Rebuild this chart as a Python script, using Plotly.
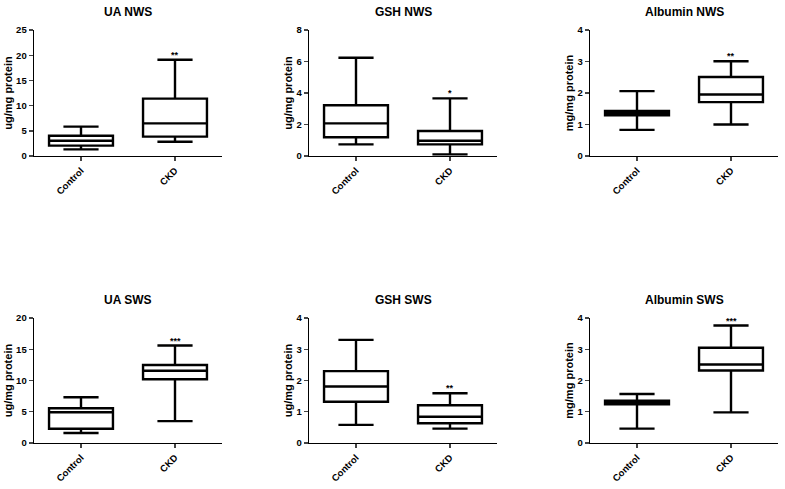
import plotly.graph_objects as go

categories = ["Control", "CKD"]

titles = ["UA NWS", "GSH NWS", "Albumin NWS", "UA SWS", "GSH SWS", "Albumin SWS"]
y_titles = ["ug/mg protein", "ug/mg protein", "mg/mg protein",
            "ug/mg protein", "ug/mg protein", "mg/mg protein"]
y_max = [25, 8, 4, 20, 4, 4]
y_dtick = [5, 2, 1, 5, 1, 1]
stars = ["**", "*", "**", "***", "**", "***"]

# [Control, CKD] per panel
lowerfence = [[1.32, 2.84], [0.74, 0.10], [0.83, 1.00], [1.59, 3.50], [0.58, 0.46], [0.46, 0.98]]
q1 =         [[2.05, 3.84], [1.19, 0.74], [1.29, 1.71], [2.28, 10.19], [1.32, 0.63], [1.24, 2.32]]
median =     [[3.04, 6.48], [2.07, 0.97], [1.36, 1.95], [4.93, 11.56], [1.81, 0.84], [1.29, 2.51]]
q3 =         [[4.03, 11.38], [3.22, 1.59], [1.43, 2.51], [5.57, 12.47], [2.30, 1.21], [1.35, 3.05]]
upperfence = [[5.82, 19.10], [6.24, 3.66], [2.06, 3.01], [7.32, 15.60], [3.30, 1.59], [1.57, 3.76]]

W, H = 785, 489
x_px = [(34, 222), (309, 497), (590, 778)]
y_px = [(30, 156), (318, 443)]

FONT = "Liberation Sans, Arial, sans-serif"

fig = go.Figure()
layout = dict(
    width=W, height=H,
    margin=dict(l=0, r=0, t=0, b=0, autoexpand=False),
    paper_bgcolor="white", plot_bgcolor="white",
    showlegend=False,
    font=dict(family=FONT, color="black"),
)
annotations = []

for i in range(6):
    r, c = divmod(i, 3)
    xa = "x" if i == 0 else f"x{i+1}"
    ya = "y" if i == 0 else f"y{i+1}"
    xkey = "xaxis" if i == 0 else f"xaxis{i+1}"
    ykey = "yaxis" if i == 0 else f"yaxis{i+1}"
    x0, x1 = x_px[c]
    yt, yb = y_px[r]
    layout[xkey] = dict(
        domain=[x0 / W, x1 / W], anchor=ya, range=[-0.5, 1.5],
        tickmode="array", tickvals=[0, 1], ticktext=[f"<b>{t}</b>" for t in categories],
        tickangle=-45, ticks="outside", ticklen=4, tickwidth=1.4,
        showline=True, linecolor="black", linewidth=1.4,
        showgrid=False, zeroline=False, automargin=False,
        tickfont=dict(size=9.5, family=FONT, color="black"),
        fixedrange=True,
    )
    layout[ykey] = dict(
        domain=[1 - yb / H, 1 - yt / H], anchor=xa, range=[0, y_max[i]],
        dtick=y_dtick[i], tick0=0,
        ticks="outside", ticklen=4, tickwidth=1.4,
        showline=True, linecolor="black", linewidth=1.4,
        showgrid=False, zeroline=False, automargin=False,
        tickfont=dict(size=9.5, family=FONT, color="black"),
        tickprefix="<b>", ticksuffix="</b>",
        title=dict(text=f"<b>{y_titles[i]}</b>", font=dict(size=11, family=FONT, color="black"),
                   standoff=1),
        fixedrange=True,
    )
    fig.add_trace(go.Box(
        x=[0, 1],
        q1=q1[i], median=median[i], q3=q3[i],
        lowerfence=lowerfence[i], upperfence=upperfence[i],
        width=0.68, whiskerwidth=0.55,
        line=dict(color="black", width=2.4),
        fillcolor="white",
        boxpoints=False,
        xaxis=xa, yaxis=ya,
        hoverinfo="skip",
    ))
    # panel title
    annotations.append(dict(
        text=f"<b>{titles[i]}</b>", xref="paper", yref="paper",
        x=(x0 + x1) / 2 / W, y=1 - (yt - 18) / H,
        xanchor="center", yanchor="middle", showarrow=False,
        font=dict(size=12, family=FONT, color="black"),
    ))
    # significance stars
    annotations.append(dict(
        text=f"<b>{stars[i]}</b>", xref=xa, yref=ya,
        x=1, y=upperfence[i][1], xanchor="center", yanchor="bottom",
        yshift=-2, showarrow=False,
        font=dict(size=9, family=FONT, color="black"),
    ))

layout["annotations"] = annotations
fig.update_layout(**layout)
fig.write_html(
    "out.html",
    config={"displayModeBar": False, "staticPlot": True},
    post_script="document.body.style.margin='0';document.body.style.overflow='hidden';",
)
